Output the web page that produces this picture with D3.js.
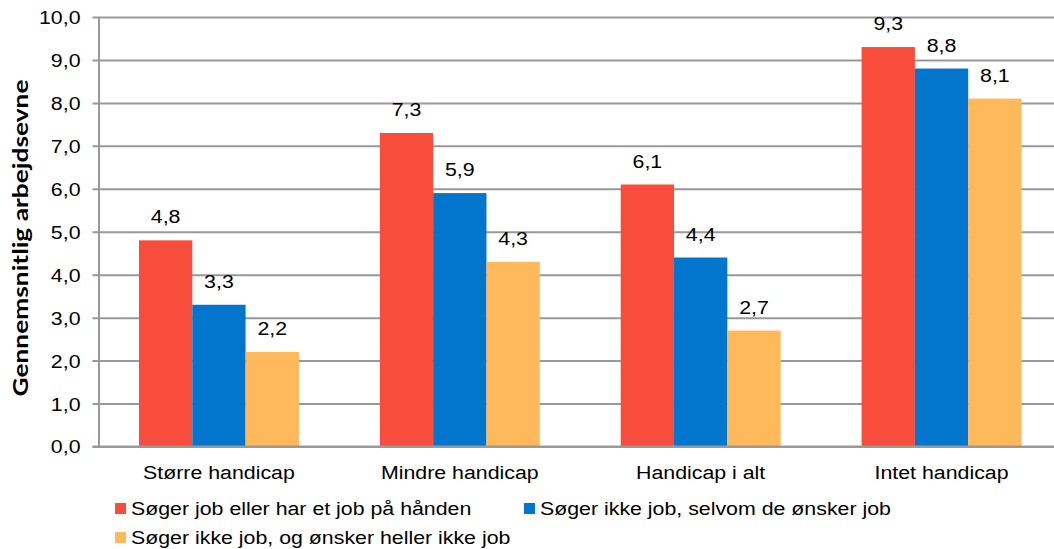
<!DOCTYPE html>
<html>
<head>
<meta charset="utf-8">
<script src="https://cdn.jsdelivr.net/npm/d3@7"></script>
<style>
body{margin:0;background:#fff;}
text{font-family:"Liberation Sans",Arial,sans-serif;fill:#000;}
</style>
</head>
<body>
<div class="box"></div>
<script>
const categories=['Større handicap','Mindre handicap','Handicap i alt','Intet handicap'];
const series=['Søger job eller har et job på hånden','Søger ikke job, selvom de ønsker job','Søger ikke job, og ønsker heller ikke job'];
const seriesValues=[
  [4.8,7.3,6.1,9.3],
  [3.3,5.9,4.4,8.8],
  [2.2,4.3,2.7,8.1]
];
const yTicks=[0,1,2,3,4,5,6,7,8,9,10];
const colors=['#f84c3c','#0275cd','#ffb85a'];

const W=1054,H=549;
const svg=d3.select('.box').append('svg').attr('width',W).attr('height',H).style('background','white');
const m={left:98.5,right:1062,top:17,bottom:446.5};

// horizontal stretch of text like the picture
const k=1.185;
const stretch=sel=>sel.each(function(){
  const l=this.getComputedTextLength();
  d3.select(this).attr('textLength',l*k).attr('lengthAdjust','spacingAndGlyphs');
});

const x0=d3.scaleBand().domain(categories).range([m.left,m.right]).paddingInner(0.336).paddingOuter(0.168);
const x1=d3.scaleBand().domain(d3.range(series.length)).range([0,x0.bandwidth()]);
const y=d3.scaleLinear().domain([0,10]).range([m.bottom,m.top]);

// y axis + grid
const gY=svg.append('g').attr('transform',`translate(${m.left},0)`);
gY.call(d3.axisLeft(y).tickValues(yTicks).tickSizeOuter(0).tickFormat(d=>d3.format('.1f')(d).replace('.',',')));
gY.select('.domain').attr('stroke','#999').attr('stroke-width',2);
gY.selectAll('.tick line').attr('x1',-6).attr('x2',m.right-m.left).attr('stroke','#999').attr('stroke-width',2);
gY.selectAll('.tick text').attr('x',-18).attr('dy','0.36em').style('font-size','18px').style('font-family','"Liberation Sans",Arial,sans-serif').call(stretch);

// bars
const data=[];
categories.forEach((c,i)=>series.forEach((s,j)=>data.push({c,j,v:seriesValues[j][i]})));
svg.append('g').selectAll('rect').data(data).enter().append('rect')
  .attr('x',d=>x0(d.c)+x1(d.j))
  .attr('width',x1.bandwidth())
  .attr('y',d=>y(d.v))
  .attr('height',d=>y(0)-y(d.v))
  .attr('fill',d=>colors[d.j]);

// redraw zero line over bars
svg.append('line').attr('x1',m.left-6).attr('x2',m.right).attr('y1',y(0)).attr('y2',y(0)).attr('stroke','#999').attr('stroke-width',2);

// value labels
svg.append('g').selectAll('text').data(data).enter().append('text')
  .attr('x',d=>x0(d.c)+x1(d.j)+x1.bandwidth()/2)
  .attr('y',d=>y(d.v)-17)
  .attr('text-anchor','middle')
  .style('font-size','18px')
  .text(d=>d3.format('.1f')(d.v).replace('.',','))
  .call(stretch);

// category labels
svg.append('g').selectAll('text').data(categories).enter().append('text')
  .attr('x',d=>x0(d)+x0.bandwidth()/2)
  .attr('y',479)
  .attr('text-anchor','middle')
  .style('font-size','18px')
  .text(d=>d)
  .call(stretch);

// axis title
svg.append('text')
  .attr('transform','translate(28,238) rotate(-90)')
  .attr('text-anchor','middle')
  .style('font-family','Lato,sans-serif')
  .style('font-weight','bold')
  .style('font-size','20px')
  .attr('textLength',317).attr('lengthAdjust','spacingAndGlyphs')
  .text('Gennemsnitlig arbejdsevne');

// legend
const legPos=[[115,503],[524,503],[115,532]];
const leg=svg.append('g').selectAll('g').data(series).enter().append('g')
  .attr('transform',(d,i)=>`translate(${legPos[i][0]},${legPos[i][1]})`);
leg.append('rect').attr('width',11).attr('height',11).attr('fill',(d,i)=>colors[i]);
leg.append('text').attr('x',16).attr('y',12).style('font-size','18px').text(d=>d).call(stretch);
</script>
</body>
</html>
